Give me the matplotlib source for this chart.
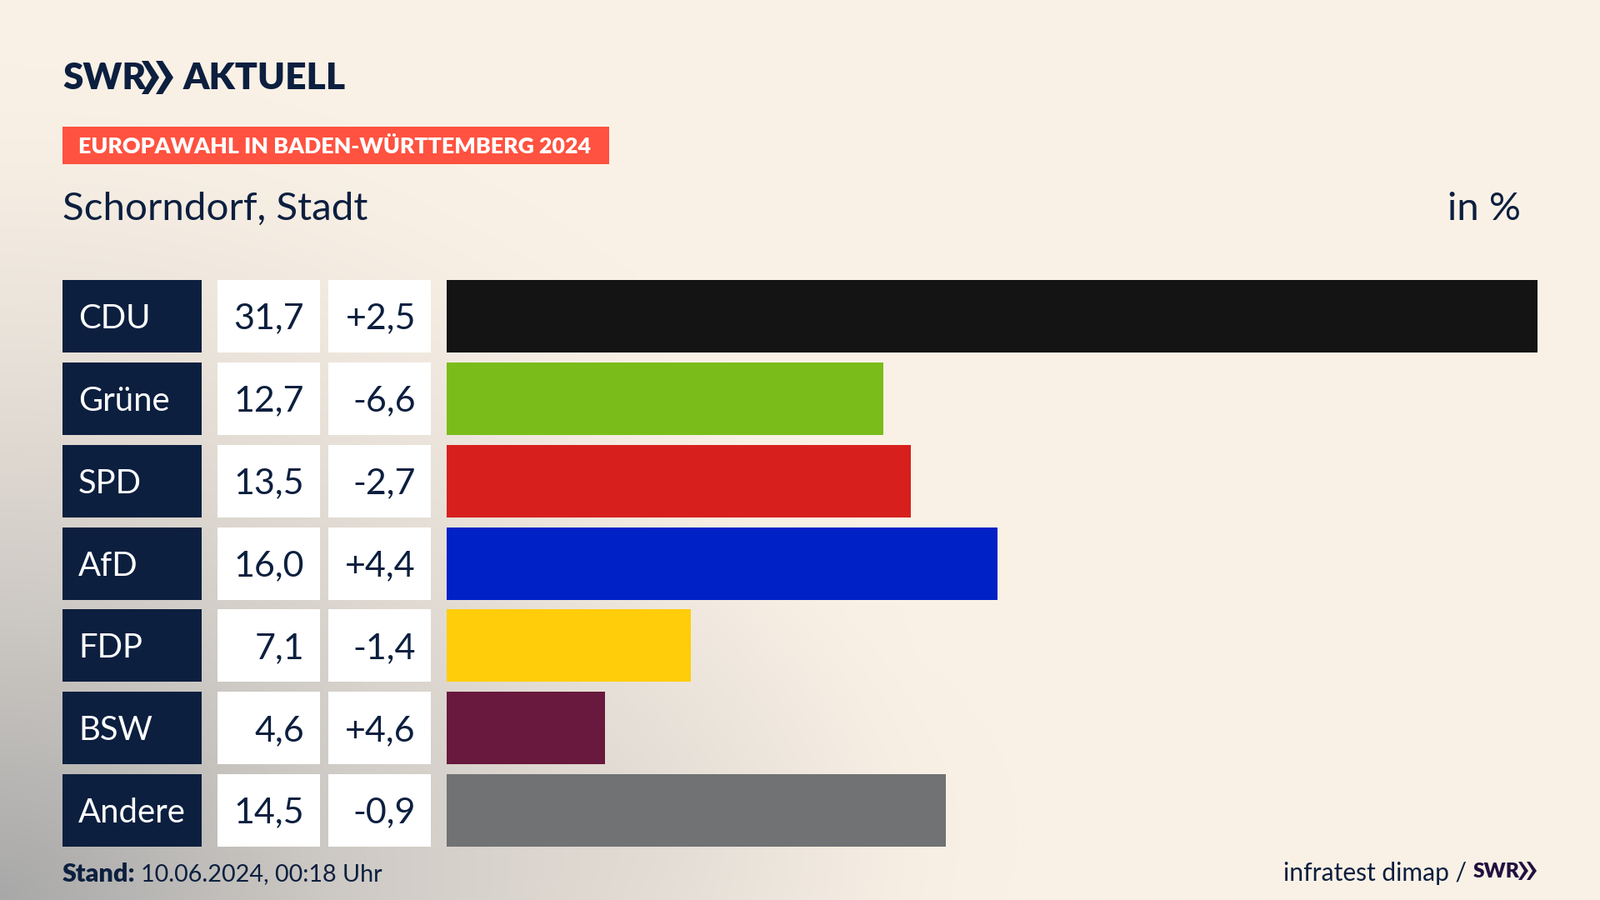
import numpy as np
import matplotlib
matplotlib.use("Agg")
import matplotlib.pyplot as plt
from matplotlib.patches import Rectangle, Polygon

parties = ["CDU", "Grüne", "SPD", "AfD", "FDP", "BSW", "Andere"]
shares = [31.7, 12.7, 13.5, 16.0, 7.1, 4.6, 14.5]
changes = ["+2,5", "-6,6", "-2,7", "+4,4", "-1,4", "+4,6", "-0,9"]
share_labels = ["31,7", "12,7", "13,5", "16,0", "7,1", "4,6", "14,5"]
colors = ["#141414", "#7ABD1A", "#D7201E", "#0021C6", "#FFCD0A", "#68193D", "#707274"]

NAVY = "#0C1F3F"
FONT = "Lato"
W, H = 1920, 1080
ROW0, PITCH, ROWH = 379.5, 98.85, 87.0


def px(size):
    return size * 0.72


fig = plt.figure(figsize=(19.2, 10.8), dpi=100)
bg = fig.add_axes([0, 0, 1, 1])
bg.set_xlim(0, W)
bg.set_ylim(H, 0)
bg.axis("off")

# background: warm beige darkening towards the bottom-left corner
yy, xx = np.mgrid[0:H:270j, 0:W:480j]
d1 = np.sqrt(((xx - 0) / 1150) ** 2 + ((yy - H) / 1000) ** 2)
t = np.clip(1 - d1, 0, 1) ** 1.4
d2 = np.sqrt(((xx - 800) / 420) ** 2 + ((yy - 1000) / 300) ** 2)
t = np.clip(t + 0.10 * np.clip(1 - d2, 0, 1), 0, 1)
base = np.array([250, 241, 230]) / 255
dark = np.array([168, 168, 168]) / 255
img = base[None, None, :] * (1 - t[..., None]) + dark[None, None, :] * t[..., None]
bg.imshow(img, extent=(0, W, H, 0), aspect="auto", interpolation="bilinear", zorder=0)

# header
bg.text(75, 94, "SWR", color=NAVY, fontsize=px(44), fontweight="black", family=FONT, va="center", ha="left")
for x0 in (170, 187):
    bg.add_patch(Polygon([(x0, 73), (x0 + 8, 73), (x0 + 21, 93), (x0 + 8, 113), (x0, 113), (x0 + 12, 93)],
                         closed=True, fc=NAVY, ec="none", zorder=3))
bg.text(220, 94, "AKTUELL", color=NAVY, fontsize=px(44.4), fontweight="black", family=FONT, va="center", ha="left")

bg.add_patch(Rectangle((75, 152), 656, 45, fc="#FF5240", ec="none", zorder=2))
bg.text(94, 176, "EUROPAWAHL IN BADEN-WÜRTTEMBERG 2024", color="white", fontsize=px(26.8),
        fontweight="black", family=FONT, va="center", ha="left", zorder=3)
bg.text(75, 251, "Schorndorf, Stadt", color=NAVY, fontsize=px(47.5), family=FONT, va="center", ha="left")
bg.text(1825, 251, "in %", color=NAVY, fontsize=px(47.5), family=FONT, va="center", ha="right")

# table cells
for i, (p, s, c) in enumerate(zip(parties, share_labels, changes)):
    yc = ROW0 + PITCH * i
    top = yc - ROWH / 2
    bg.add_patch(Rectangle((75, top), 167, ROWH, fc=NAVY, ec="none", zorder=2))
    bg.add_patch(Rectangle((261, top), 123, ROWH, fc="white", ec="none", zorder=2))
    bg.add_patch(Rectangle((394, top), 123, ROWH, fc="white", ec="none", zorder=2))
    bg.text(94, yc + 3, p, color="white", fontsize=px(40), family=FONT, va="center", ha="left", zorder=3)
    bg.text(365, yc + 3, s, color=NAVY, fontsize=px(43), family=FONT, va="center", ha="right", zorder=3)
    bg.text(499, yc + 3, c, color=NAVY, fontsize=px(43), family=FONT, va="center", ha="right", zorder=3)

# footer
bg.text(75, 1049, "Stand:", color=NAVY, fontsize=px(30.5), fontweight="black", family=FONT, va="center", ha="left")
bg.text(169, 1049, "10.06.2024, 00:18 Uhr", color=NAVY, fontsize=px(28.7), family=FONT, va="center", ha="left")
bg.text(1760, 1048, "infratest dimap /", color=NAVY, fontsize=px(30), family=FONT, va="center", ha="right")
PURPLE = "#22103F"
bg.text(1768, 1046, "SWR", color=PURPLE, fontsize=px(24.5), fontweight="black", family=FONT, va="center", ha="left")
for x0 in (1822, 1832):
    bg.add_patch(Polygon([(x0, 1034), (x0 + 4, 1034), (x0 + 12, 1045), (x0 + 4, 1056), (x0, 1056), (x0 + 7, 1045)],
                         closed=True, fc=PURPLE, ec="none", zorder=3))

# bars on their own value axis
ax = fig.add_axes([536 / W, 0, 1309 / W, 1])
ax.patch.set_alpha(0)
ax.axis("off")
ax.set_xlim(0, 31.7)
ax.set_ylim((H - ROW0) / PITCH, -ROW0 / PITCH)
ax.barh(range(len(parties)), shares, height=ROWH / PITCH, color=colors, edgecolor="none")

fig.savefig("out.png", dpi=100)
